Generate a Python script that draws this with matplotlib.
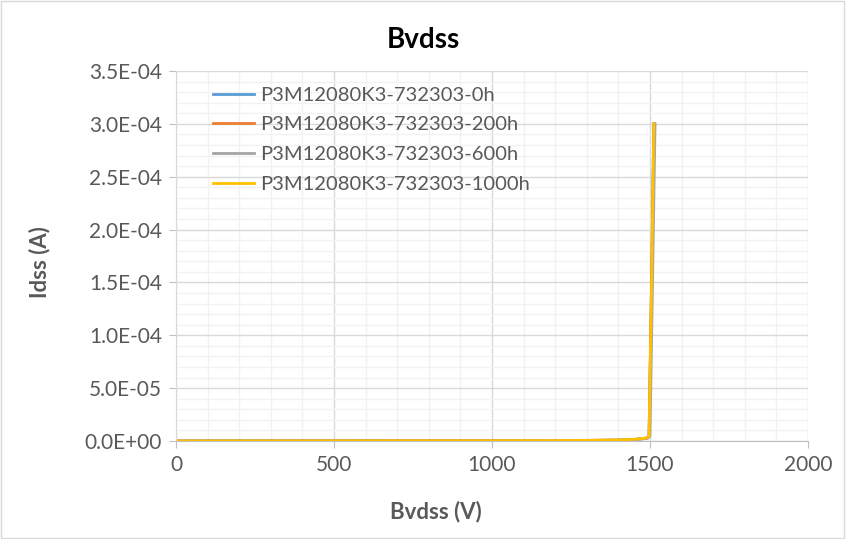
import matplotlib.pyplot as plt
from matplotlib.patches import Rectangle
from matplotlib.ticker import MultipleLocator, FuncFormatter

plt.rcParams['font.family'] = ['Lato', 'DejaVu Sans']

# Bvdss sweep (V) and leakage current (A) per stress time
v_0h = [0, 200, 400, 600, 800, 1000, 1200, 1300, 1400, 1450, 1480, 1492, 1497, 1505, 1512]
i_0h = [0, 1e-7, 1.5e-7, 2e-7, 2.5e-7, 3e-7, 4e-7, 5e-7, 8e-7, 1.4e-6, 2.2e-6, 2.8e-6, 5e-6, 1.5e-4, 3.0e-4]
v_200h = [0, 200, 400, 600, 800, 1000, 1200, 1300, 1400, 1450, 1480, 1492, 1497, 1505, 1513]
i_200h = [0, 1e-7, 1.5e-7, 2e-7, 2.5e-7, 3e-7, 4e-7, 6e-7, 9e-7, 1.5e-6, 2.4e-6, 3.0e-6, 5e-6, 1.5e-4, 3.0e-4]
v_600h = [0, 200, 400, 600, 800, 1000, 1200, 1300, 1400, 1450, 1480, 1494, 1500, 1508, 1516]
i_600h = [0, 1e-7, 1.5e-7, 2e-7, 2.5e-7, 3e-7, 4e-7, 5e-7, 8e-7, 1.3e-6, 2.1e-6, 2.7e-6, 5e-6, 1.5e-4, 3.0e-4]
v_1000h = [0, 200, 400, 600, 800, 1000, 1200, 1300, 1400, 1450, 1480, 1492, 1497, 1505, 1512]
i_1000h = [0, 1e-7, 1.5e-7, 2e-7, 2.5e-7, 3e-7, 4e-7, 6e-7, 1.0e-6, 1.6e-6, 2.5e-6, 3.1e-6, 5e-6, 1.5e-4, 3.0e-4]

labels = ["P3M12080K3-732303-0h", "P3M12080K3-732303-200h",
          "P3M12080K3-732303-600h", "P3M12080K3-732303-1000h"]
colors = ["#5B9BD5", "#ED7D31", "#A5A5A5", "#FFC000"]

fig = plt.figure(figsize=(8.46, 5.39), dpi=100)
ax = fig.add_axes([176 / 846, 98 / 539, 632 / 846, 370 / 539])

series = [(v_0h, i_0h), (v_200h, i_200h), (v_600h, i_600h), (v_1000h, i_1000h)]
for (v, i), lab, c in zip(series, labels, colors):
    ax.plot(v, i, color=c, lw=2.0, label=lab, solid_joinstyle="round")

ax.set_xlim(0, 2000)
ax.set_ylim(0, 3.5e-4)
ax.xaxis.set_major_locator(MultipleLocator(500))
ax.xaxis.set_minor_locator(MultipleLocator(100))
ax.yaxis.set_major_locator(MultipleLocator(5e-5))
ax.yaxis.set_minor_locator(MultipleLocator(1e-5))
ax.yaxis.set_major_formatter(FuncFormatter(lambda y, _: f"{y:.1E}"))
ax.grid(which="major", color="#D9D9D9", lw=1.0)
ax.grid(which="minor", color="#F2F2F2", lw=1.0)
ax.set_axisbelow(True)
for s in ["top", "right"]:
    ax.spines[s].set_visible(False)
ax.spines["left"].set_color("#D9D9D9")
ax.spines["bottom"].set_color("#BFBFBF")
ax.tick_params(which="major", length=5, color="#BFBFBF", labelsize=15,
               labelcolor="#595959", pad=5)
ax.tick_params(which="minor", length=0)

fig.text(0.5, 1 - 40 / 539, "Bvdss", ha="center", va="center",
         fontsize=20, fontweight="bold", color="black")
fig.text(436 / 846, 1 - 512 / 539, "Bvdss (V)", ha="center", va="center",
         fontsize=16, fontweight="bold", color="#595959")
fig.text(40 / 846, 1 - 262 / 539, "Idss (A)", ha="center", va="center", rotation=90,
         fontsize=16, fontweight="bold", color="#595959")

leg = ax.legend(loc="upper left", bbox_to_anchor=(0.04, 0.99), frameon=False,
                fontsize=14.5, handlelength=2.0, labelspacing=0.62, handletextpad=0.3,
                borderaxespad=0.2)
for t in leg.get_texts():
    t.set_color("#595959")

fig.patches.append(Rectangle((0.001, 0.001), 0.997, 0.997, transform=fig.transFigure,
                             fill=False, edgecolor="#D9D9D9", lw=1))

fig.savefig("out.png", dpi=100)
